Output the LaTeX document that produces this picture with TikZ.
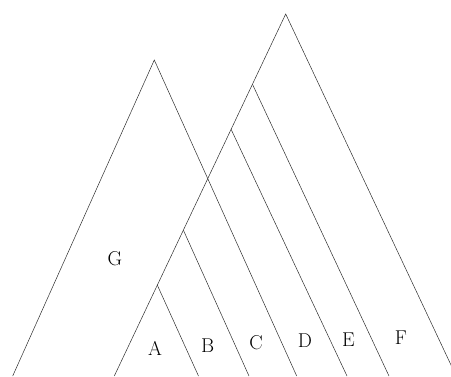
\documentclass[tikz,border=0pt]{standalone}
\usepackage{tikz}
\usetikzlibrary{calc}
\definecolor{mydark}{RGB}{45,45,45}
\tikzset{
  branch/.style={color=mydark,line width=0.5pt},
  leaf/.style={font=\fontsize{20}{24}\selectfont,color=black,inner sep=0pt}
}

\begin{document}
\begin{tikzpicture}[x=1pt,y=-1pt]
  \clip (0,0) rectangle (451,376);

  % ── Triangle G ────────────────────────────────────────────────────────────
  \coordinate (gtop)   at (154.3,60);
  \coordinate (gleft)  at (12.7,376);
  \coordinate (gright) at (296.7,376);
  \draw[branch] (gleft) -- (gtop) -- (gright);

  % ── Tree over A..F ───────────────────────────────────────────────────────
  \coordinate (top)   at (285.7,14);
  \coordinate (left)  at (114.3,376);
  \coordinate (right) at (456.2,376);
  \draw[branch] (left) -- (top) -- (right);

  % splits along the left leg
  \coordinate (sE) at ($(top)!0.194!(left)$);
  \coordinate (sD) at ($(top)!0.3185!(left)$);
  \coordinate (sC) at ($(top)!0.597!(left)$);
  \coordinate (sB) at ($(top)!0.749!(left)$);
  % feet of the inner branches
  \coordinate (fE) at (389.0,376);
  \coordinate (fD) at (347.0,376);
  \coordinate (fC) at (249.0,376);
  \coordinate (fB) at (198.5,376);
  \draw[branch] (sE) -- (fE);
  \draw[branch] (sD) -- (fD);
  \draw[branch] (sC) -- (fC);
  \draw[branch] (sB) -- (fB);

  % ── Labels ───────────────────────────────────────────────────────────────
  \node[leaf] (G) at (115,259)   {G};
  \node[leaf] (A) at (155,348.3) {A};
  \node[leaf] (B) at (207.7,346) {B};
  \node[leaf] (C) at (256,342.7) {C};
  \node[leaf] (D) at (305,340.7) {D};
  \node[leaf] (E) at (348.3,340) {E};
  \node[leaf] (F) at (401,337.3) {F};
\end{tikzpicture}
\end{document}
